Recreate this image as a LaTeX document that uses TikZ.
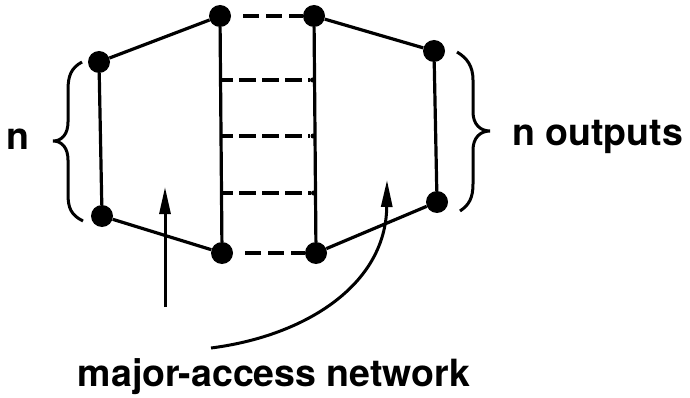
\documentclass[tikz,border=0pt]{standalone}
\usepackage{fontspec}
\setmainfont{TeX Gyre Heros}
\usetikzlibrary{arrows.meta}
\begin{document}
\begin{tikzpicture}[x=1pt,y=-1pt,
  wire/.style={line width=3.2pt},
  dot/.style={circle,fill=black,inner sep=0pt,minimum size=22pt},
  joint/.style={circle,fill=black,inner sep=0pt,minimum size=5pt},
  link/.style={line width=3.2pt,dash pattern=on 16pt off 7pt},
  rung/.style={line width=3.2pt,dash pattern=on 17pt off 6pt,dash phase=6pt},
  pointer/.style={line width=3pt,-{Triangle[length=27pt,width=11pt]}},
  label/.style={font=\bfseries\fontsize{37.5}{40}\selectfont,inner sep=0pt}]
\useasboundingbox (0,0) rectangle (690,398);

% switching nodes
\node[dot] (lt)  at (99,62)   {};
\node[dot] (lb)  at (102,216) {};
\node[dot] (ilt) at (220,16)  {};
\node[dot] (ilb) at (222,253) {};
\node[dot] (irt) at (314,16)  {};
\node[dot] (irb) at (316,253) {};
\node[dot] (rt)  at (434,51)  {};
\node[dot] (rb)  at (437,202) {};

% ends of the dashed rungs
\coordinate (a1) at (222,80);
\coordinate (a2) at (222,136);
\coordinate (a3) at (222,193);
\node[joint] (b1) at (312.5,80)  {};
\node[joint] (b2) at (313,136)   {};
\node[joint] (b3) at (313.5,193) {};

% solid wiring
\draw[wire] (lt) -- (ilt);
\draw[wire] (lt) -- (lb);
\draw[wire] (lb) -- (ilb);
\draw[wire] (ilt) -- (ilb);
\draw[wire] (irt) -- (irb);
\draw[wire] (irt) -- (rt);
\draw[wire] (rt) -- (rb);
\draw[wire] (irb) -- (rb);

% dashed connections between the two middle columns
\draw[link,shorten <=5pt,dash phase=16pt] (ilt) -- (irt);
\draw[link,shorten <=5pt,dash phase=16pt] (ilb) -- (irb);
\draw[rung] (a1) -- (b1);
\draw[rung] (a2) -- (b2);
\draw[rung] (a3) -- (b3);

% braces
\draw[line width=3pt] (82,62) .. controls (71,68) and (68,76) .. (68,90)
  -- (68,122) .. controls (68,134) and (62,141) .. (53,141)
  .. controls (62,141) and (68,148) .. (68,160)
  -- (68,194) .. controls (68,208) and (71,215) .. (83,221);
\draw[line width=3pt] (457,52) .. controls (467,58) and (473,66) .. (473,80)
  -- (473,112) .. controls (473,124) and (480,131) .. (490,131)
  .. controls (480,131) and (473,138) .. (473,150)
  -- (473,184) .. controls (473,198) and (469,205) .. (460,211);

% labels
\node[label,anchor=base west] (nin) at (6,150) {n};
\node[label,anchor=base west] (nout) at (512,146) {n outputs};
\node[label,anchor=base] (mac) at (274,386) {major-access network};

% pointers to the network
\coordinate (p1) at (165,307);
\coordinate (p1e) at (165,187);
\coordinate (p2) at (211,348);
\coordinate (p2e) at (387,180);
\draw[pointer] (p1) -- (p1e);
\draw[pointer] (p2) .. controls (305,336) and (386,285) .. (p2e);
\end{tikzpicture}
\end{document}
